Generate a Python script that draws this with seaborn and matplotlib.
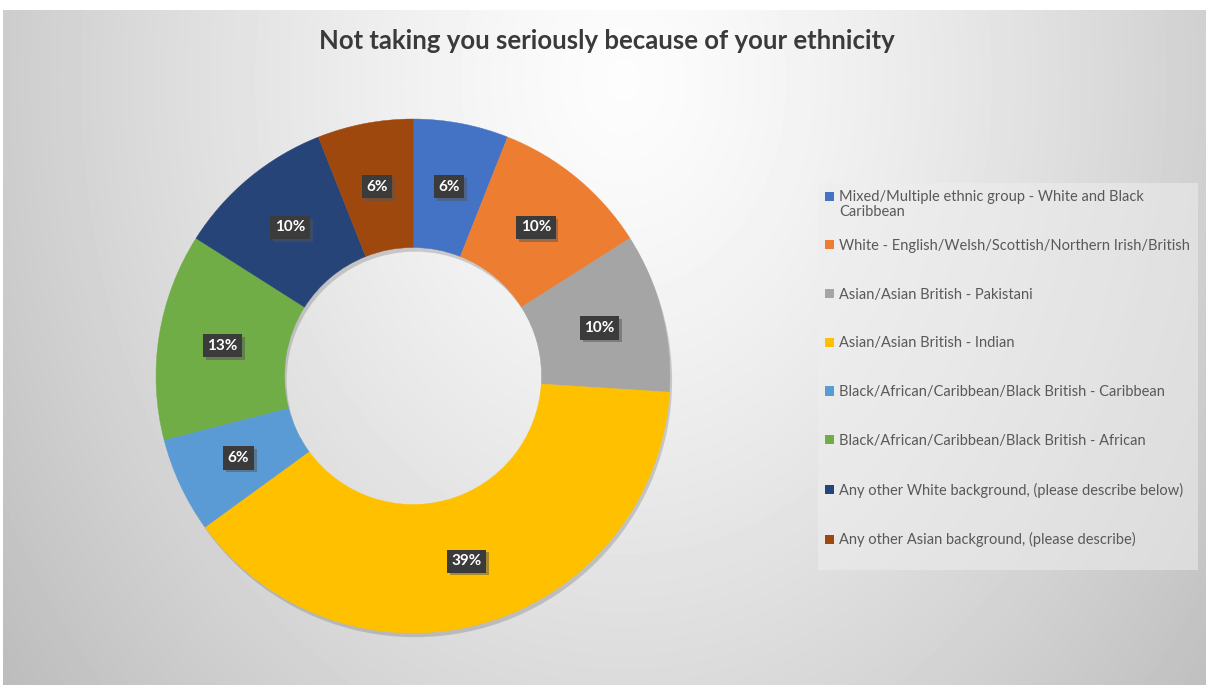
import numpy as np
import matplotlib
matplotlib.use("Agg")
import matplotlib.pyplot as plt
import matplotlib.patheffects as pe
from matplotlib.patches import Patch, Rectangle
import seaborn as sns

title = "Not taking you seriously because of your ethnicity"
categories = [
    "Mixed/Multiple ethnic group - White and Black\nCaribbean",
    "White - English/Welsh/Scottish/Northern Irish/British",
    "Asian/Asian British - Pakistani",
    "Asian/Asian British - Indian",
    "Black/African/Caribbean/Black British - Caribbean",
    "Black/African/Caribbean/Black British - African",
    "Any other White background, (please describe below)",
    "Any other Asian background, (please describe)",
]
shares = [6, 10, 10, 39, 6, 13, 10, 6]
colors = ["#4472C4", "#ED7D31", "#A5A5A5", "#FFC000",
          "#5B9BD5", "#70AD47", "#264478", "#9E480E"]

sns.set_theme(style="white")
plt.rcParams["font.family"] = ["Lato", "DejaVu Sans"]
pal = sns.color_palette(colors)

W, H = 1206, 686
fig = plt.figure(figsize=(W / 100, H / 100), dpi=100)
fig.patch.set_facecolor("white")

# background: soft radial gradient, light near the title
bg = fig.add_axes([3 / W, 1 / H, (W - 3) / W, (H - 11) / H], zorder=0)
yy, xx = np.mgrid[0:H - 11, 0:W - 3]
d = np.sqrt(((xx - 620) / 700.0) ** 2 + ((yy - 70) / 900.0) ** 2)
shade = 0.99 - 0.22 * np.clip(d, 0, 1.2) ** 1.3
bg.imshow(shade, cmap="gray", vmin=0, vmax=1, aspect="auto", interpolation="bilinear")
bg.set_axis_off()

fig.text(607 / W, 1 - 41 / H, title, ha="center", va="center",
         fontsize=18.5, fontweight="bold", color="#3a3a3a")

# donut
cx, cy, r = 413, 376, 257
ax = fig.add_axes([(cx - r) / W, (H - cy - r) / H, 2 * r / W, 2 * r / H], zorder=2)
ax.set_facecolor("none")
# soft shadow under the whole ring
shadow, _ = ax.pie([1], colors=["#000000"], radius=1, wedgeprops=dict(width=0.5, linewidth=0))
shadow[0].set_path_effects([pe.SimplePatchShadow(offset=(1.5, -3), shadow_rgbFace="#555555", alpha=0.25)])
wedges, _ = ax.pie(shares, colors=pal, startangle=90, counterclock=False, radius=1,
                   wedgeprops=dict(width=0.5, linewidth=0.3))
for w in wedges:
    w.set_edgecolor(w.get_facecolor())
ax.set_xlim(-1.0, 1.0)
ax.set_ylim(-1.0, 1.0)
ax.set_aspect("equal")
ax.set_axis_off()

for w, v in zip(wedges, shares):
    mid = np.deg2rad((w.theta1 + w.theta2) / 2)
    t = ax.text(0.75 * np.cos(mid), 0.75 * np.sin(mid), f"{v}%", ha="center", va="center",
                fontsize=11, fontweight="bold", color="white",
                bbox=dict(boxstyle="square,pad=0.3", facecolor="#3b3b3b", edgecolor="none"))
    t.get_bbox_patch().set_path_effects([
        pe.SimplePatchShadow(offset=(2, -2), shadow_rgbFace="#555555", alpha=0.5), pe.Normal()])

# legend box (drawn separately, it has more room at the bottom than the entries need)
fig.patches.append(Rectangle((818 / W, 1 - 570 / H), 380 / W, 387 / H, transform=fig.transFigure,
                             facecolor="#eeeeee", alpha=0.55, edgecolor="none", zorder=1))

# wrapped lines after the first are written under their entry,
# so every entry keeps the same spacing (as in the original)
first_lines = [c.split("\n")[0] for c in categories]
handles = [Patch(facecolor=c, edgecolor="none", label=l) for c, l in zip(pal, first_lines)]
leg = fig.legend(handles=handles, loc="upper left", bbox_to_anchor=(818 / W, 1 - 183 / H),
                 frameon=False, fontsize=10.5, labelcolor="#595959",
                 handlelength=0.6, handleheight=0.6, handletextpad=0.35,
                 labelspacing=2.38, borderpad=0.5, borderaxespad=0)
leg.set_zorder(3)

fig.canvas.draw()
for txt, full in zip(leg.get_texts(), categories):
    rest = full.split("\n")[1:]
    if rest:
        bb = txt.get_window_extent()
        fig.text(bb.x0 / W, (bb.y0 - 1) / H, "\n".join(rest), ha="left", va="top",
                 fontsize=10.5, color="#595959", zorder=4)

fig.savefig("out.png", dpi=100)
